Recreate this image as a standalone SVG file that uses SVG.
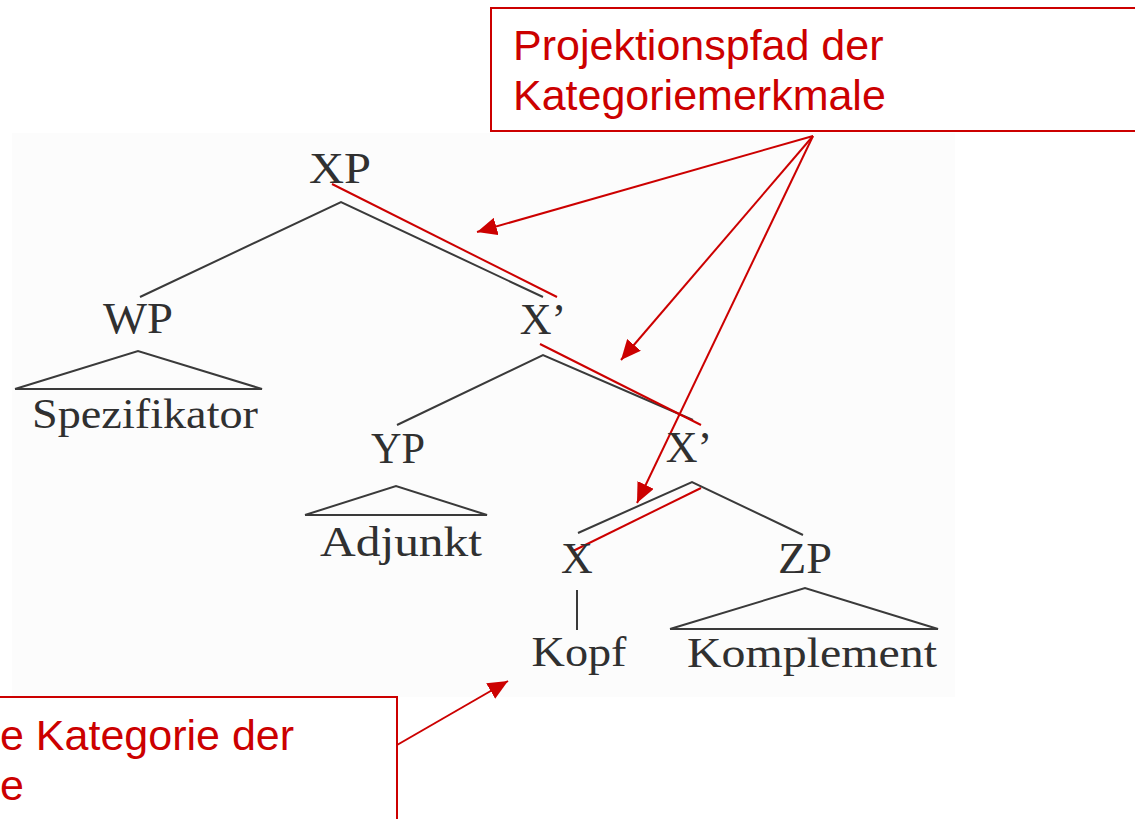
<svg xmlns="http://www.w3.org/2000/svg" width="1135" height="819" viewBox="0 0 1135 819">
<style>
.lab{font-family:"Liberation Serif","Times New Roman",serif;font-size:44px;fill:#303030;text-anchor:middle}
.word{font-family:"Liberation Serif","Times New Roman",serif;font-size:42px;fill:#303030;text-anchor:middle}
.note{font-family:"Liberation Sans",Arial,sans-serif;font-size:43px;fill:#cc0000}
.edge{stroke:#3a3a3a;stroke-width:2;fill:none;stroke-linejoin:miter}
.path{stroke:#cc0000;stroke-width:2;fill:none}
.arrow{stroke:#cc0000;stroke-width:2;fill:none;marker-end:url(#ah)}
.box{stroke:#cc0000;stroke-width:2;fill:#ffffff}
</style>
<defs>
<marker id="ah" markerUnits="userSpaceOnUse" markerWidth="22" markerHeight="18" refX="20" refY="9" orient="auto">
<path d="M0,0 L20,9 L0,18 Z" fill="#cc0000"/>
</marker>
</defs>
<rect x="0" y="0" width="1135" height="819" fill="#ffffff"/>
<rect x="12" y="133" width="943" height="564" fill="#fcfcfc"/>

<g id="connectors">
<polyline class="edge" points="140,297 341,202 543,297"/>
<polyline class="edge" points="15,389 138,351 262,389 15,389"/>
<polyline class="edge" points="397,425 543,355 693,420"/>
<polyline class="edge" points="305,515 396,486 487,515 305,515"/>
<polyline class="edge" points="578,533 692,482 803,535"/>
<line class="edge" x1="577" y1="590" x2="577" y2="630"/>
<polyline class="edge" points="670,629 805,588 938,629 670,629"/>

<line class="path" x1="332" y1="184" x2="557" y2="297"/>
<line class="path" x1="540" y1="344" x2="701" y2="425"/>
<line class="path" x1="701" y1="488" x2="573" y2="551"/>

<line class="arrow" x1="813" y1="136" x2="477" y2="232"/>
<line class="arrow" x1="813" y1="136" x2="621" y2="360"/>
<line class="arrow" x1="813" y1="136" x2="637" y2="503"/>
<line class="arrow" x1="397" y1="745" x2="508" y2="681"/>
</g>

<g id="node-xp"><text class="lab" x="340" y="183" textLength="62" lengthAdjust="spacingAndGlyphs">XP</text></g>
<g id="node-wp"><text class="lab" x="138" y="333" textLength="70" lengthAdjust="spacingAndGlyphs">WP</text></g>
<g id="node-spezifikator"><text class="word" x="145" y="428" textLength="226" lengthAdjust="spacingAndGlyphs">Spezifikator</text></g>
<g id="node-xbar1"><text class="lab" x="543" y="334">X’</text></g>
<g id="node-yp"><text class="lab" x="398" y="463" textLength="54" lengthAdjust="spacingAndGlyphs">YP</text></g>
<g id="node-adjunkt"><text class="word" x="401" y="556" textLength="162" lengthAdjust="spacingAndGlyphs">Adjunkt</text></g>
<g id="node-xbar2"><text class="lab" x="689" y="462">X’</text></g>
<g id="node-x"><text class="lab" x="577" y="573">X</text></g>
<g id="node-kopf"><text class="word" x="579" y="666" textLength="95" lengthAdjust="spacingAndGlyphs">Kopf</text></g>
<g id="node-zp"><text class="lab" x="805" y="573" textLength="54" lengthAdjust="spacingAndGlyphs">ZP</text></g>
<g id="node-komplement"><text class="word" x="812" y="667" textLength="250" lengthAdjust="spacingAndGlyphs">Komplement</text></g>

<g id="note-top">
<rect class="box" x="491" y="8" width="700" height="123"/>
<text class="note" x="513" y="60">Projektionspfad der</text>
<text class="note" x="513" y="110">Kategoriemerkmale</text>
</g>
<g id="note-bottom">
<rect class="box" x="-10" y="697" width="407" height="140"/>
<text class="note" x="0" y="750">e Kategorie der</text>
<text class="note" x="0" y="800">e</text>
</g>
</svg>
